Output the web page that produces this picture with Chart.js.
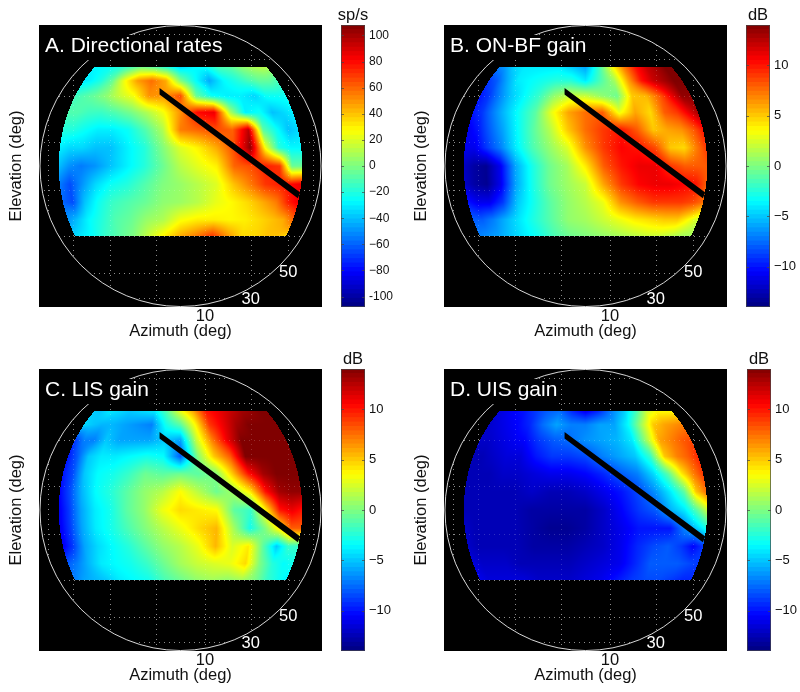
<!DOCTYPE html>
<html>
<head>
<meta charset="utf-8">
<title>Directional gain maps</title>
<script src="https://cdn.jsdelivr.net/npm/chart.js@4/dist/chart.umd.min.js"></script>
<style>
body { margin: 0; background: #fff; }
canvas { position: absolute; }
</style>
</head>
<body>
<canvas id="map_a"></canvas><canvas id="bar_a"></canvas>
<canvas id="map_b"></canvas><canvas id="bar_b"></canvas>
<canvas id="map_c"></canvas><canvas id="bar_c"></canvas>
<canvas id="map_d"></canvas><canvas id="bar_d"></canvas>
<script>
const FONT = '"Liberation Sans", Arimo, Helvetica, Arial, sans-serif';

// sample grid, degrees
const azimuths = [-60, -52.5, -45, -37.5, -30, -22.5, -15, -7.5, 0, 7.5, 15, 22.5, 30, 37.5, 45, 52.5, 60];
const elevations = [45, 37.5, 30, 22.5, 15, 7.5, 0, -7.5, -15, -22.5, -30];

// rows follow elevations, columns follow azimuths
const directionalRates = [
    [-28, -27, -25, -20, -12, -2, -8, -20, -35, -28, -25, -12, -8, 2, 8, 12, 12],
    [-32, -28, -20, -5, 25, 48, 58, 45, 0, -25, -45, -28, -20, -12, -6, -6, -12],
    [-14, -10, -5, 3, 15, 25, 50, 50, 65, -5, -25, -30, -30, -36, -25, -25, -25],
    [-10, -10, -14, -15, -10, -2, 10, 25, 50, 80, 85, 10, -30, -25, -40, -35, -30],
    [-20, -20, -25, -30, -30, -25, -10, 10, 55, 60, 65, 60, 95, -8, -25, -40, -35],
    [-30, -35, -35, -40, -40, -30, -20, 0, 20, 30, 45, 65, 105, 25, -20, -28, -28],
    [-40, -50, -55, -50, -40, -30, -20, -5, 12, 22, 30, 60, 65, 75, 70, -5, -5],
    [-55, -65, -50, -35, -25, -20, -10, 0, 5, 12, 20, 40, 55, 70, 75, 80, 85],
    [-60, -65, -40, -25, -15, -10, -5, 3, 6, 12, 22, 28, 35, 45, 55, 75, 85],
    [-50, -40, -28, -20, -10, -5, 5, 10, 25, 30, 30, 28, 30, 35, 40, 45, 60],
    [-35, -30, -25, -15, -8, 0, 15, 30, 45, 55, 70, 50, 35, 35, 40, 40, 35]
];
const onBfGain = [
    [-7, -6, -4.5, -4, -4, -4, -4, -5, -6, -2, 3, 7, 10, 12, 13, 14, 14],
    [-9, -8, -6, -4, -3.5, -3, -2.5, -2.5, -4, -1.5, 1, 6, 10, 12, 13, 14, 14],
    [-10, -9, -7, -5, -3.5, -2, 0.5, 2, 2, 0.5, -0.5, 5, 5.5, 8, 11, 13.5, 13.5],
    [-10, -9, -7, -5, -3, -1, 3, 6, 7.5, 8, 3, 6, 4.5, 8, 9, 11, 13],
    [-11, -10, -8, -6, -3.5, -1, 1.5, 5, 7.5, 9, 10, 8, 5, 6, 6.5, 8, 10],
    [-11, -11, -9, -7, -4, -1.5, 0.5, 2.5, 6.5, 9, 10.5, 10, 8.5, 5, 4.5, 7, 9],
    [-12, -13, -13.5, -11, -6, -3, -0.5, 1, 4, 8, 10, 11, 11, 9, 8, 8, 8],
    [-12, -13, -13.5, -11, -6, -3, -0.5, 0.8, 2, 6, 9, 10.5, 11, 11, 10.5, 10, 8],
    [-10, -11, -11, -9, -5, -3, -1, 0.5, 1.5, 3, 6.5, 8, 9, 9, 9, 8.5, 7.5],
    [-8, -8, -7, -5.5, -4, -2.5, -1, 0.5, 1, 2, 3, 4, 4.5, 5, 5, 3.5, 2],
    [-7, -6.5, -6, -5, -4, -3, -1.5, -0.5, 0, 0.5, 1, 1.5, 2, 2, 1.5, 1, 1]
];
const lisGain = [
    [-5, -5, -4, -4.5, -5, -4.5, -4, -1, 3, 6, 10, 11, 12, 13, 13.5, 14, 14],
    [-4.5, -5, -5.5, -5.5, -6, -6.5, -7, -3, -1, 3.5, 9, 11, 13, 14, 14, 14, 14],
    [-9, -7, -7, -5, -6, -6, -6, -5, -6, 2, 7, 11, 14, 14, 14, 14, 14],
    [-10, -8, -5, -4, -4, -3.5, -3, -3.5, -8, 0, 5, 8, 14, 14, 14, 14, 14],
    [-10, -8.5, -5, -3.5, -3, -2, -0.5, -1, -0.5, -1, 0, 5, 10, 13, 14, 14, 14],
    [-10.5, -8.5, -5.5, -3.5, -2.5, -1, 0.5, 1.5, 3.5, 1.5, -0.5, 1, 4, 10, 13, 13.5, 13.5],
    [-11, -9, -6, -4, -3, -1, 0.5, 3, 4.5, 4, 3.5, -1, -2, 4, 10, 11, 10],
    [-11, -9, -6, -4, -3, -1.5, 0, 1.5, 3, 4.5, 5.5, 1, -3, 0, 4, 8, 8],
    [-11, -9, -6, -4.5, -3.5, -2.5, -1, 0.5, 1.5, 3, 5.5, 2.5, 4, -1, -5, -2, -2],
    [-8, -7, -5.5, -4, -3.5, -3, -2, -0.5, 1, 2, 2.5, 3, 4.5, 0, -2.5, -3.5, -3],
    [-7, -6, -5.5, -5, -4, -3.5, -3, -1.5, -0.5, 0.5, 1, 0.5, 1, 0, -2, -3, -4]
];
const uisGain = [
    [-11.5, -11, -10.5, -10, -9, -8, -7.5, -9.5, -11, -9.5, -7, -5, -2, 2, 3.5, 3.5, 3.5],
    [-12, -11.5, -11, -10.5, -9.5, -7.5, -6, -7, -7, -6, -6, -3.5, 1, 5, 6, 6.5, 7],
    [-12, -12, -11.5, -11, -10.5, -9, -8, -7.5, -6.5, -6, -5.5, -4, 1, 6, 7, 8, 8.5],
    [-12.5, -12.5, -12, -11.5, -11.5, -10, -9, -9, -8.5, -7, -6, -5, -2, 5, 7, 8, 9.5],
    [-12.5, -12.5, -12.5, -12, -12, -11.5, -11, -11, -10.5, -9.5, -8, -7, -4.5, -1, 4, 7, 9],
    [-12.5, -12.5, -12.5, -12.5, -12.5, -12, -12.5, -12.5, -12, -11, -10, -8.5, -6.5, -4, -1, 5, 7.5],
    [-12.5, -12.5, -12.5, -12.5, -12.5, -13, -13, -13, -13, -12, -10.5, -9, -8, -5.5, -4, -1, 2],
    [-12, -12.5, -12.5, -12.5, -12.5, -13, -13.5, -13.5, -13, -12, -11, -10, -10, -10, -7, -5, -3],
    [-12, -12.5, -12.5, -12.5, -12.5, -13, -13, -13, -12.5, -12, -11, -9.5, -8.5, -8, -9, -10.5, -9],
    [-11.5, -12, -12, -12, -12.5, -12.5, -12.5, -12.5, -12, -11.5, -11, -9.5, -8, -8, -8, -8.5, -9],
    [-11, -11.5, -11.5, -11.5, -11.5, -12, -12, -12, -11.5, -11, -10, -9, -8.5, -8.5, -9, -9.5, -9.5]
];

// dotted grid positions, degrees
const gridDegrees = [-70, -50, -30, -10, 10, 30, 50, 70];

// black bar across each map, in map units
const ridgeX = [-0.149, -0.149, 0.835, 0.852];
const ridgeY = [0.557, 0.51, -0.23, -0.19];

// labels printed inside the circle
const insideLabels = ['30', '50'];
const insideLabelX = [0.5, 0.766];
const insideLabelY = [-0.95, -0.76];

const rateTicks = [100, 80, 60, 40, 20, 0, -20, -40, -60, -80, -100];
const gainTicks = [10, 5, 0, -5, -10];

function rad(d) { return d * Math.PI / 180; }

function jet(v, lim) {
    const t = Math.min(1, Math.max(0, (v + lim) / (2 * lim))) * 4;
    const r = Math.min(1, Math.max(0, Math.min(t - 1.5, 4.5 - t)));
    const g = Math.min(1, Math.max(0, Math.min(t - 0.5, 3.5 - t)));
    const b = Math.min(1, Math.max(0, Math.min(t + 0.5, 2.5 - t)));
    return [Math.round(r * 255), Math.round(g * 255), Math.round(b * 255)];
}

function sampleAt(rows, az, el) {
    const fx = (az - azimuths[0]) / 7.5;
    const fy = (elevations[0] - el) / 7.5;
    const ix = Math.min(azimuths.length - 2, Math.floor(fx));
    const iy = Math.min(elevations.length - 2, Math.floor(fy));
    const tx = fx - ix;
    const ty = fy - iy;
    const top = rows[iy][ix] * (1 - tx) + rows[iy][ix + 1] * tx;
    const low = rows[iy + 1][ix] * (1 - tx) + rows[iy + 1][ix + 1] * tx;
    return top * (1 - ty) + low * ty;
}

// shades the map from the samples, pixel positions come back through the scales
function paintHeat(chart, rows, lim) {
    const area = chart.chartArea;
    const sx = chart.scales.x;
    const sy = chart.scales.y;
    const w = Math.round(area.right - area.left);
    const h = Math.round(area.bottom - area.top);
    const off = document.createElement('canvas');
    off.width = w;
    off.height = h;
    const octx = off.getContext('2d');
    const img = octx.createImageData(w, h);
    for (let j = 0; j < h; j++) {
        const yv = sy.getValueForPixel(area.top + j + 0.5);
        if (Math.abs(yv) >= 1) continue;
        const el = Math.asin(yv) * 180 / Math.PI;
        if (el > 45 || el < -30) continue;
        const ce = Math.cos(rad(el));
        for (let i = 0; i < w; i++) {
            const xv = sx.getValueForPixel(area.left + i + 0.5) / ce;
            if (Math.abs(xv) >= 1) continue;
            const az = Math.asin(xv) * 180 / Math.PI;
            if (Math.abs(az) > 60) continue;
            const c = jet(sampleAt(rows, az, el), lim);
            const k = (j * w + i) * 4;
            img.data[k] = c[0];
            img.data[k + 1] = c[1];
            img.data[k + 2] = c[2];
            img.data[k + 3] = 255;
        }
    }
    octx.putImageData(img, 0, 0);
    chart.ctx.drawImage(off, area.left, area.top);
}

function paintGrid(chart, alpha) {
    const ctx = chart.ctx;
    const area = chart.chartArea;
    const sx = chart.scales.x;
    const sy = chart.scales.y;
    const cx = sx.getPixelForValue(0);
    const cy = sy.getPixelForValue(0);
    ctx.save();
    ctx.beginPath();
    ctx.arc(cx, cy, sx.getPixelForValue(1) - cx, 0, Math.PI * 2);
    ctx.clip();
    ctx.strokeStyle = 'rgba(255,255,255,' + alpha + ')';
    ctx.lineWidth = 1;
    ctx.setLineDash([1, 4]);
    gridDegrees.forEach(d => {
        const gx = Math.round(sx.getPixelForValue(Math.sin(rad(d)))) + 0.5;
        const gy = Math.round(sy.getPixelForValue(Math.sin(rad(d)))) + 0.5;
        ctx.beginPath();
        ctx.moveTo(gx, area.top);
        ctx.lineTo(gx, area.bottom);
        ctx.moveTo(area.left, gy);
        ctx.lineTo(area.right, gy);
        ctx.stroke();
    });
    ctx.restore();
}

const mapPlugin = {
    id: 'mapPlugin',
    beforeDatasetsDraw(chart, args, opts) {
        const ctx = chart.ctx;
        const area = chart.chartArea;
        const sx = chart.scales.x;
        const sy = chart.scales.y;
        const cx = sx.getPixelForValue(0);
        const cy = sy.getPixelForValue(0);
        const r = sx.getPixelForValue(1) - cx;

        ctx.save();
        ctx.fillStyle = '#000';
        ctx.fillRect(area.left, area.top, area.right - area.left, area.bottom - area.top);
        // dots are strong on black, faint over the colours
        paintGrid(chart, 0.45);
        paintHeat(chart, opts.rows, opts.lim);
        paintGrid(chart, 0.18);

        ctx.strokeStyle = 'rgba(225,225,225,0.95)';
        ctx.lineWidth = 1;
        ctx.beginPath();
        ctx.arc(cx, cy, r, 0, Math.PI * 2);
        ctx.stroke();

        // title sits on its own black box, it cuts the circle
        ctx.font = '21px ' + FONT;
        const tw = ctx.measureText(opts.title).width;
        ctx.fillStyle = '#000';
        ctx.fillRect(area.left + 5, area.top + 10, tw + 2, 25);
        ctx.fillStyle = '#fff';
        ctx.textAlign = 'left';
        ctx.textBaseline = 'alphabetic';
        ctx.fillText(opts.title, area.left + 6, area.top + 27);

        ctx.font = '16.5px ' + FONT;
        ctx.textAlign = 'center';
        ctx.textBaseline = 'middle';
        insideLabels.forEach((t, i) => {
            ctx.fillText(t, sx.getPixelForValue(insideLabelX[i]), sy.getPixelForValue(insideLabelY[i]));
        });
        ctx.restore();
    }
};

const barPlugin = {
    id: 'barPlugin',
    afterDatasetsDraw(chart, args, opts) {
        const ctx = chart.ctx;
        const area = chart.chartArea;
        const sy = chart.scales.y;
        ctx.save();
        ctx.strokeStyle = 'rgba(70,70,70,0.7)';
        ctx.lineWidth = 1;
        ctx.strokeRect(area.left + 0.5, area.top + 0.5, area.right - area.left - 1, area.bottom - area.top - 1);
        sy.ticks.forEach(t => {
            const y = Math.round(sy.getPixelForValue(t.value)) + 0.5;
            ctx.beginPath();
            ctx.moveTo(area.left, y);
            ctx.lineTo(area.left + 3, y);
            ctx.moveTo(area.right - 3, y);
            ctx.lineTo(area.right, y);
            ctx.stroke();
        });
        ctx.fillStyle = '#111';
        ctx.font = '16.5px ' + FONT;
        ctx.textAlign = 'center';
        ctx.textBaseline = 'alphabetic';
        ctx.fillText(opts.unit, (area.left + area.right) / 2, area.top - 5);
        ctx.restore();
    }
};

function makeMap(id, left, top, title, rows, lim) {
    const canvas = document.getElementById(id);
    canvas.width = 322;
    canvas.height = 346;
    canvas.style.left = left + 'px';
    canvas.style.top = top + 'px';
    const samples = [];
    elevations.forEach((el, j) => {
        azimuths.forEach((az, i) => {
            samples.push({ x: Math.sin(rad(az)) * Math.cos(rad(el)), y: Math.sin(rad(el)), v: rows[j][i] });
        });
    });
    new Chart(canvas.getContext('2d'), {
        type: 'scatter',
        data: {
            datasets: [
                {
                    label: 'ridge',
                    data: ridgeX.map((x, i) => ({ x: x, y: ridgeY[i] })),
                    showLine: true,
                    borderWidth: 0,
                    backgroundColor: '#000',
                    fill: 'shape',
                    pointRadius: 0
                },
                {
                    label: title,
                    data: samples,
                    pointRadius: 0
                }
            ]
        },
        options: {
            responsive: false,
            animation: false,
            events: [],
            layout: { padding: { top: 25, left: 0, right: 0, bottom: 0 } },
            plugins: {
                legend: { display: false },
                tooltip: { enabled: false },
                mapPlugin: { rows: rows, lim: lim, title: title }
            },
            scales: {
                x: {
                    type: 'linear',
                    min: -1.007,
                    max: 1.007,
                    afterBuildTicks: s => { s.ticks = gridDegrees.map(d => ({ value: Math.sin(rad(d)), deg: d })); },
                    afterFit: s => { s.height = 39; },
                    grid: { display: false, drawTicks: false },
                    border: { display: false },
                    ticks: {
                        autoSkip: false,
                        maxRotation: 0,
                        padding: 0,
                        color: '#111',
                        font: { family: FONT, size: 16.5 },
                        callback: v => Math.abs(v - Math.sin(rad(10))) < 0.001 ? '10' : ''
                    },
                    title: {
                        display: true,
                        text: 'Azimuth (deg)',
                        color: '#111',
                        font: { family: FONT, size: 16.5 },
                        padding: { top: 0, bottom: 5 }
                    }
                },
                y: {
                    type: 'linear',
                    min: -1.007,
                    max: 1.007,
                    afterFit: s => { s.width = 39; },
                    grid: { display: false, drawTicks: false },
                    border: { display: false },
                    ticks: { display: false },
                    title: {
                        display: true,
                        text: 'Elevation (deg)',
                        color: '#111',
                        font: { family: FONT, size: 16.5 },
                        padding: { top: 7, bottom: 7 }
                    }
                }
            }
        },
        plugins: [mapPlugin]
    });
}

function makeColorbar(id, left, top, unit, lim, tickValues, fontSize) {
    const canvas = document.getElementById(id);
    canvas.width = 70;
    canvas.height = 346;
    canvas.style.left = (left - 10) + 'px';
    canvas.style.top = top + 'px';
    // jet(64) levels, lowest level first so it is painted last
    const step = 2 * lim / 64;
    const levels = [];
    for (let i = 0; i < 64; i++) {
        const lo = -lim + i * step;
        const c = jet(lo + step / 2, lim);
        levels.push({
            data: [[lo - step * 0.3, lo + step]],
            backgroundColor: 'rgb(' + c.join(',') + ')',
            borderWidth: 0
        });
    }
    new Chart(canvas.getContext('2d'), {
        type: 'bar',
        data: { labels: [unit], datasets: levels },
        options: {
            responsive: false,
            animation: false,
            events: [],
            layout: { padding: { top: 25, bottom: 39, left: 10, right: 0 } },
            datasets: { bar: { grouped: false, barPercentage: 1, categoryPercentage: 1 } },
            plugins: {
                legend: { display: false },
                tooltip: { enabled: false },
                barPlugin: { unit: unit }
            },
            scales: {
                x: { display: false },
                y: {
                    position: 'right',
                    min: -lim,
                    max: lim,
                    afterBuildTicks: s => { s.ticks = tickValues.map(v => ({ value: v })); },
                    afterFit: s => { s.width = 36; },
                    grid: { display: false, drawTicks: false },
                    border: { display: false },
                    ticks: {
                        autoSkip: false,
                        padding: 4,
                        color: '#111',
                        font: { family: FONT, size: fontSize },
                        callback: v => v === -100 ? '-100' : (v < 0 ? '\u2212' + (-v) : String(v))
                    }
                }
            }
        },
        plugins: [barPlugin]
    });
}

window.onload = function () {
    makeMap('map_a', 0, 0, 'A. Directional rates', directionalRates, 108);
    makeMap('map_b', 405, 0, 'B. ON-BF gain', onBfGain, 14);
    makeMap('map_c', 0, 344, 'C. LIS gain', lisGain, 14);
    makeMap('map_d', 405, 344, 'D. UIS gain', uisGain, 14);
    makeColorbar('bar_a', 341, 0, 'sp/s', 108, rateTicks, 12);
    makeColorbar('bar_b', 746, 0, 'dB', 14, gainTicks, 13);
    makeColorbar('bar_c', 341, 344, 'dB', 14, gainTicks, 13);
    makeColorbar('bar_d', 747, 344, 'dB', 14, gainTicks, 13);
};
</script>
</body>
</html>
